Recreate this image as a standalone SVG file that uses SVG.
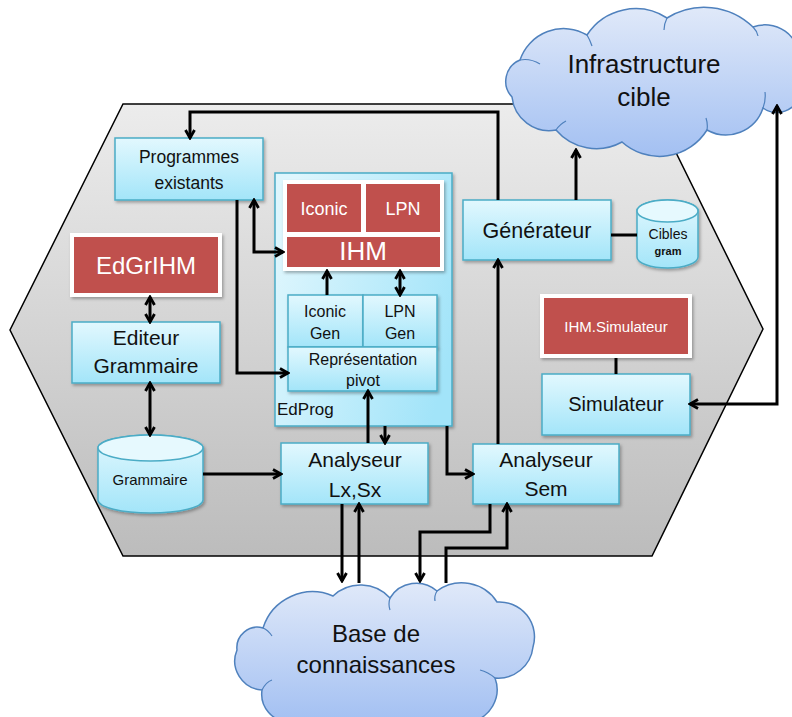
<svg xmlns="http://www.w3.org/2000/svg" width="792" height="717" viewBox="0 0 792 717">
<defs>
  <linearGradient id="gCyan" x1="0" y1="0" x2="0" y2="1">
    <stop offset="0" stop-color="#e2f8fe"/>
    <stop offset="1" stop-color="#a3e5f9"/>
  </linearGradient>
  <linearGradient id="gEd" x1="0" y1="0.3" x2="1" y2="0.7">
    <stop offset="0" stop-color="#def6fd"/>
    <stop offset="1" stop-color="#a2e4f9"/>
  </linearGradient>
  <linearGradient id="gHex" x1="0" y1="0" x2="0" y2="1">
    <stop offset="0" stop-color="#ececec"/>
    <stop offset="1" stop-color="#bcbcbc"/>
  </linearGradient>
  <linearGradient id="gCloud" x1="0" y1="0" x2="0" y2="1">
    <stop offset="0" stop-color="#e0e9f9"/>
    <stop offset="1" stop-color="#a3c0f2"/>
  </linearGradient>
  <filter id="sh" x="-10%" y="-10%" width="125%" height="130%">
    <feDropShadow dx="1.5" dy="2" stdDeviation="1.5" flood-color="#000" flood-opacity="0.3"/>
  </filter>
  <marker id="ar" viewBox="0 0 12 12" markerUnits="userSpaceOnUse" markerWidth="12" markerHeight="12" refX="10" refY="6" orient="auto-start-reverse">
    <path d="M2,1.5 L10,6 L2,10.5" fill="none" stroke="#000" stroke-width="2.8"/>
  </marker>
</defs>
<style>
  .box{fill:url(#gCyan);stroke:#4bacc6;stroke-width:1.5;filter:url(#sh)}
  .cyl{fill:url(#gCyan);stroke:#4bacc6;stroke-width:1.5}
  .top{fill:#e6f9fe;stroke:#4bacc6;stroke-width:1.5}
  .wb{fill:#fff;filter:url(#sh)}
  .red{fill:#c0504d}
  .t{font-family:"Liberation Sans",Arial,sans-serif;fill:#111;text-anchor:middle}
  .w{fill:#fff}
  .c{fill:none;stroke:#000;stroke-width:3}
  .a{marker-end:url(#ar)}
  .aa{marker-start:url(#ar);marker-end:url(#ar)}
  .cloud{fill:url(#gCloud);stroke:#4f81bd;stroke-width:1.5}
  .ci{fill:none;stroke:#4f81bd;stroke-width:1.2}
</style>

<g id="hexagon">
  <polygon points="123,104 652,104 763,329 652,556 123,556 10,330" fill="url(#gHex)" stroke="#000" stroke-width="1.5"/>
</g>

<g id="infrastructure-cible">
  <path class="cloud" d="M512,97 A23,23 0 0 1 520,60 A46,46 0 0 1 587,35 A58,58 0 0 1 667,18 A70,70 0 0 1 753,27 A35,35 0 0 1 800,60 L800,95 A24,24 0 0 1 763,108 A39,39 0 0 1 707,130 A56,56 0 0 1 622,142 A53,53 0 0 1 556,130 A37.5,37.5 0 0 1 512,97 Z"/>
  <path class="ci" d="M520,60 Q530,58 540,64 M587,35 Q590,40 592,46 M667,18 Q664,24 664,30 M753,27 Q757,31 758,36 M763,108 Q766,100 765,92 M707,130 Q708,124 706,118 M556,130 Q560,124 566,121"/>
  <text class="t" x="644" y="73" font-size="26">Infrastructure</text>
  <text class="t" x="644" y="106" font-size="26">cible</text>
</g>

<g id="base-connaissances">
  <path class="cloud" d="M237,650 A20.5,20.5 0 0 1 263,628 A52,52 0 0 1 333,596 A40,40 0 0 1 390,598 A31,31 0 0 1 437,591 A42,42 0 0 1 497,602 A35,35 0 0 1 533,647 A35,35 0 0 1 495,678 A33,33 0 0 1 470,722 L290,722 A28,28 0 0 1 262,690 A29,29 0 0 1 237,650 Z"/>
  <path class="ci" d="M263,628 Q268,630 272,636 M390,598 Q388,604 390,610 M437,591 Q434,596 435,601 M495,678 Q488,672 480,670 M262,690 Q266,682 272,680"/>
  <text class="t" x="376" y="642" font-size="24">Base de</text>
  <text class="t" x="376" y="673" font-size="24">connaissances</text>
</g>

<g id="programmes-existants">
  <rect class="box" x="115" y="138" width="148" height="62"/>
  <text class="t" x="189" y="163" font-size="17.5">Programmes</text>
  <text class="t" x="189" y="189" font-size="17.5">existants</text>
</g>

<g id="edgrihm">
  <rect class="wb" x="70" y="233" width="152" height="64"/>
  <rect class="red" x="74" y="237" width="144" height="56"/>
  <text class="t w" x="146" y="274" font-size="24">EdGrIHM</text>
</g>

<g id="editeur-grammaire">
  <rect class="box" x="72" y="322" width="148" height="61"/>
  <text class="t" x="146" y="345" font-size="21">Editeur</text>
  <text class="t" x="146" y="373" font-size="21">Grammaire</text>
</g>

<g id="grammaire">
  <path class="cyl" d="M98,448 A52.5,13 0 0 1 203,448 V500 A52.5,13 0 0 1 98,500 Z" filter="url(#sh)"/>
  <ellipse class="top" cx="150.5" cy="448" rx="52.5" ry="13"/>
  <text class="t" x="150" y="485" font-size="15">Grammaire</text>
</g>

<g id="edprog">
  <rect x="275" y="173" width="177" height="253" fill="url(#gEd)" stroke="#4bacc6" stroke-width="1.5" filter="url(#sh)"/>
  <text class="t" x="277" y="415" font-size="17" text-anchor="start" style="text-anchor:start">EdProg</text>
</g>

<g id="ihm">
  <rect class="wb" x="283" y="180" width="161" height="91"/>
  <rect class="red" x="287" y="184" width="74" height="48"/>
  <rect class="red" x="366" y="184" width="74" height="48"/>
  <rect class="red" x="287" y="237" width="153" height="30"/>
  <text class="t w" x="324" y="215" font-size="18">Iconic</text>
  <text class="t w" x="403" y="215" font-size="18">LPN</text>
  <text class="t w" x="363" y="260" font-size="26">IHM</text>
</g>

<g id="iconic-gen">
  <rect class="box" x="288" y="295" width="75" height="52"/>
  <text class="t" x="325" y="317" font-size="16">Iconic</text>
  <text class="t" x="325" y="339" font-size="16">Gen</text>
</g>
<g id="lpn-gen">
  <rect class="box" x="363" y="295" width="74" height="52"/>
  <text class="t" x="400" y="317" font-size="16">LPN</text>
  <text class="t" x="400" y="339" font-size="16">Gen</text>
</g>
<g id="representation-pivot">
  <rect class="box" x="288" y="347" width="149" height="44"/>
  <text class="t" x="363" y="365" font-size="16">Représentation</text>
  <text class="t" x="363" y="386" font-size="16">pivot</text>
</g>

<g id="analyseur-lxsx">
  <rect class="box" x="281" y="443" width="147" height="61"/>
  <text class="t" x="355" y="467" font-size="21">Analyseur</text>
  <text class="t" x="355" y="497" font-size="21">Lx,Sx</text>
</g>

<g id="analyseur-sem">
  <rect class="box" x="473" y="444" width="146" height="60"/>
  <text class="t" x="546" y="467" font-size="21">Analyseur</text>
  <text class="t" x="546" y="496" font-size="21">Sem</text>
</g>

<g id="generateur">
  <rect class="box" x="463" y="200" width="148" height="60"/>
  <text class="t" x="537" y="238" font-size="21.5">Générateur</text>
</g>

<g id="cibles-gram">
  <path class="cyl" d="M637,211 A30.5,11 0 0 1 698,211 V257 A30.5,11 0 0 1 637,257 Z" filter="url(#sh)"/>
  <ellipse class="top" cx="667.5" cy="211" rx="30.5" ry="11"/>
  <text class="t" x="668" y="239" font-size="14">Cibles</text>
  <text class="t" x="668" y="255" font-size="11" font-weight="bold">gram</text>
</g>

<g id="ihm-simulateur">
  <rect class="wb" x="540" y="294" width="152" height="64"/>
  <rect class="red" x="544" y="298" width="144" height="56"/>
  <text class="t w" x="616" y="332" font-size="15">IHM.Simulateur</text>
</g>

<g id="simulateur">
  <rect class="box" x="542" y="374" width="148" height="61"/>
  <text class="t" x="616" y="411" font-size="20">Simulateur</text>
</g>

<g id="connectors">
  <path class="c a" d="M498,200 V112 H190 V138"/>
  <path class="c aa" d="M254,200 V252 H283"/>
  <path class="c a" d="M237,200 V373 H288"/>
  <path class="c aa" d="M150,297 V322"/>
  <path class="c aa" d="M150,383 V435"/>
  <path class="c a" d="M203,474 H281"/>
  <path class="c a" d="M327,295 V271"/>
  <path class="c aa" d="M400,295 V271"/>
  <path class="c a" d="M368,443 V391"/>
  <path class="c a" d="M385,426 V443"/>
  <path class="c a" d="M447,426 V474 H473"/>
  <path class="c a" d="M498,444 V260"/>
  <path class="c a" d="M576,200 V150"/>
  <path class="c" d="M611,235 H637"/>
  <path class="c" d="M616,358 V374"/>
  <path class="c aa" d="M690,404 H777 V106"/>
  <path class="c a" d="M342,504 V581"/>
  <path class="c a" d="M359,583 V504"/>
  <path class="c a" d="M490,504 V532 H420 V581"/>
  <path class="c a" d="M446,583 V548 H507 V504"/>
</g>
</svg>
